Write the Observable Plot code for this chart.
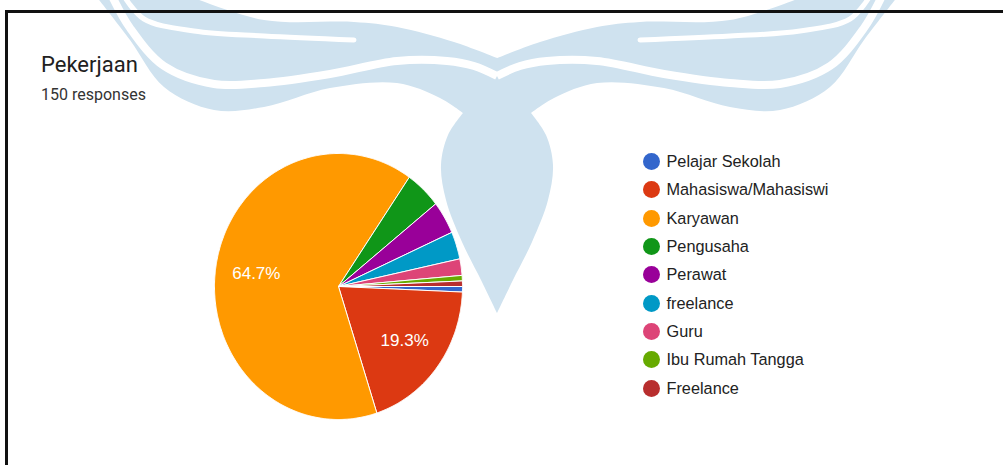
<!DOCTYPE html>
<html>
<head>
<meta charset="utf-8">
<script src="https://cdn.jsdelivr.net/npm/d3@7"></script>
<script src="https://cdn.jsdelivr.net/npm/@observablehq/plot@0.6"></script>
<style>
html, body { margin: 0; padding: 0; background: #fff; }
#wrap { position: relative; width: 1003px; height: 465px; overflow: hidden; background: #fff; }
#wm { position: absolute; left: 0; top: 0; z-index: 0; }
#border { position: absolute; left: 5px; top: 10px; width: 1200px; height: 600px;
  border-top: 3px solid #111; border-left: 3px solid #111; z-index: 1; }
#chart { position: absolute; left: 0; top: 0; z-index: 2; }
.title { position: absolute; left: 41px; top: 53.5px; font: 22px Roboto, sans-serif; line-height: 1;
  color: #212121; z-index: 3; white-space: nowrap; }
.sub { position: absolute; left: 41px; top: 87px; font: 16px Roboto, sans-serif; line-height: 1;
  color: #333; z-index: 3; white-space: nowrap; }
#legend { position: absolute; left: 642.5px; top: 147.5px; z-index: 3;
  font: 16.3px "Liberation Sans", Arial, sans-serif; color: #222; }
.item { display: flex; align-items: center; height: 28.3px; white-space: nowrap; }
.sw { width: 17px; height: 17px; border-radius: 50%; margin-right: 7px; flex: none; }
</style>
</head>
<body>
<div id="wrap">
  <svg id="wm" width="1003" height="465"></svg>
  <div id="border"></div>
  <div id="chart"></div>
  <div class="title" id="title"></div>
  <div class="sub" id="sub"></div>
  <div id="legend"></div>
</div>
<script>
// ---- data ----
const titleText = "Pekerjaan";
const subtitleText = "150 responses";
const categories = ["Pelajar Sekolah", "Mahasiswa/Mahasiswi", "Karyawan", "Pengusaha", "Perawat", "freelance", "Guru", "Ibu Rumah Tangga", "Freelance"];
const counts = [1, 29, 97, 7, 6, 5, 3, 1, 1];
const colors = ["#3366cc", "#dc3912", "#ff9900", "#109618", "#990099", "#0099c6", "#dd4477", "#66aa00", "#b82e2e"];

document.getElementById("title").textContent = titleText;
document.getElementById("sub").textContent = subtitleText;

// ---- background watermark (decoration) ----
(function () {
  const svg = d3.select("#wm");
  const line = d3.line().curve(d3.curveCatmullRom.alpha(0.5));
  const seg = (pts, first) => { const s = line(pts); return first ? s : "L" + s.slice(1); };
  const mirror = pts => pts.map(([x, y]) => [994 - x, y]);
  const lowerRight = [[531,113],[554,98],[597,83],[664,88],[730,107],[780,110],[830,87],[864,40],[898,-4]];
  const dropRight = [[497,313],[513,280],[532,242],[548,200],[553,165],[546,135],[531,113]];
  const upperRight = [[805,-4],[730,20],[640,22],[597,27],[540,42],[497,58]];
  const lowerLeft = mirror(lowerRight).reverse();
  const dropLeft = mirror(dropRight).reverse();
  const upperLeft = mirror(upperRight).reverse();
  const d = seg(lowerLeft, true) + seg(dropLeft) + seg(dropRight) + seg(lowerRight) +
            seg(upperRight) + seg(upperLeft) + "Z";
  svg.append("path").attr("d", d).attr("fill", "#cfe2ef");
  const gapLow = [[497,76],[520,66],[547,61],[597,61],[664,74],[730,83],[780,84],[830,66],[864,28],[882,-4]];
  const gapUp = [[640,40],[730,36],[800,31],[850,19],[870,-4]];
  for (const g of [gapLow, mirror(gapLow)]) {
    svg.append("path").attr("d", line(g)).attr("fill", "none").attr("stroke", "#fff").attr("stroke-width", 8);
  }
  for (const g of [gapUp, mirror(gapUp)]) {
    svg.append("path").attr("d", line(g)).attr("fill", "none").attr("stroke", "#fff").attr("stroke-width", 5).attr("stroke-linecap", "round");
  }
})();

// ---- pie geometry from data ----
const total = d3.sum(counts);
const arcs = d3.pie().sort(null).startAngle(Math.PI / 2).endAngle(Math.PI / 2 + 2 * Math.PI)(counts);
const wedgePoints = [];
arcs.forEach((a, i) => {
  const cat = categories[i];
  const n = Math.max(2, Math.ceil((a.endAngle - a.startAngle) / (Math.PI / 360)));
  wedgePoints.push({cat, x: 0, y: 0});
  for (let k = 0; k <= n; k++) {
    const t = a.startAngle + (a.endAngle - a.startAngle) * k / n;
    wedgePoints.push({cat, x: Math.sin(t), y: Math.cos(t)});
  }
  wedgePoints.push({cat, x: 0, y: 0});
});
const labels = arcs
  .map((a, i) => ({frac: counts[i] / total, mid: (a.startAngle + a.endAngle) / 2}))
  .filter(d => d.frac > 0.05)
  .map(d => ({x: 0.67 * Math.sin(d.mid), y: 0.67 * Math.cos(d.mid), text: d3.format(".1%")(d.frac)}));

const plot = Plot.plot({
  width: 1003,
  height: 465,
  margin: 0,
  style: {background: "transparent", overflow: "visible"},
  x: {domain: [-1, 1], range: [214, 462], axis: null},
  y: {domain: [-1, 1], range: [419, 153], axis: null},
  color: {domain: categories, range: colors},
  marks: [
    Plot.line(wedgePoints, {x: "x", y: "y", z: "cat", fill: "cat", stroke: "white", strokeWidth: 1, strokeLinejoin: "round"}),
    Plot.text(labels, {x: "x", y: "y", text: "text", fill: "white", fontSize: 17, fontFamily: "'Liberation Sans', Arial, sans-serif"})
  ]
});
document.getElementById("chart").appendChild(plot);

// ---- legend ----
const legend = d3.select("#legend");
categories.forEach((c, i) => {
  const it = legend.append("div").attr("class", "item");
  it.append("div").attr("class", "sw").style("background", colors[i]);
  it.append("span").text(c);
});
</script>
</body>
</html>
